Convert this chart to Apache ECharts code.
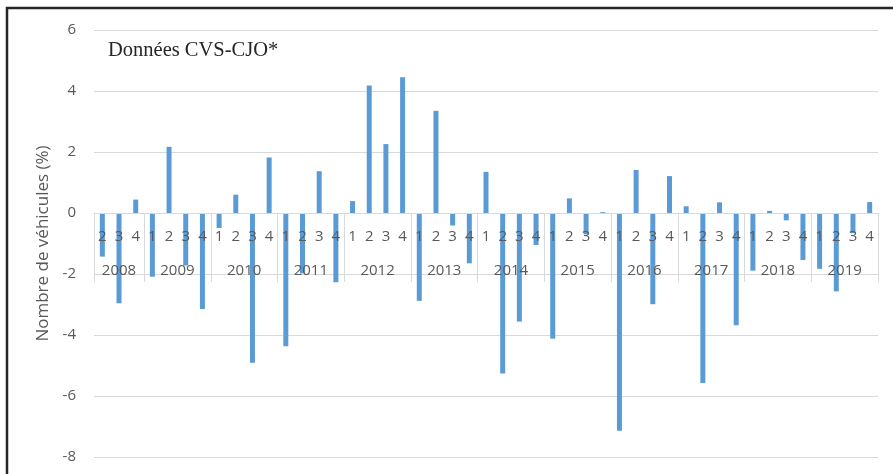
<!DOCTYPE html>
<html>
<head>
<meta charset="utf-8">
<script src="https://cdn.jsdelivr.net/npm/echarts@6/dist/echarts.min.js"></script>
<style>
html,body{margin:0;padding:0;background:#fff;}
#c{width:893px;height:474px;}
</style>
</head>
<body>
<div id="c"></div>
<script>
// ---- data ----
var years = ['2008','2009','2010','2011','2012','2013','2014','2015','2016','2017','2018','2019'];
var quartersPerYear = [
  ['2','3','4'],
  ['1','2','3','4'],['1','2','3','4'],['1','2','3','4'],['1','2','3','4'],
  ['1','2','3','4'],['1','2','3','4'],['1','2','3','4'],['1','2','3','4'],
  ['1','2','3','4'],['1','2','3','4'],['1','2','3','4']
];
var values = [
  -1.43, -2.96, 0.44,
  -2.09, 2.17, -1.72, -3.15,
  -0.49, 0.60, -4.91, 1.82,
  -4.37, -1.98, 1.37, -2.27,
  0.39, 4.18, 2.26, 4.45,
  -2.88, 3.35, -0.41, -1.65,
  1.35, -5.26, -3.56, -1.05,
  -4.12, 0.48, -0.70, 0.03,
  -7.14, 1.41, -2.99, 1.21,
  0.22, -5.57, 0.35, -3.68,
  -1.89, 0.07, -0.24, -1.54,
  -1.83, -2.57, -0.66, 0.36
];
var yTicks = {min: -8, max: 6, interval: 2};
var titleText = 'Données CVS-CJO*';
var yName = 'Nombre de véhicules (%)';

// ---- layout ----
var W = 893, H = 474;
var G = {left: 94, right: 15, top: 30, bottom: 17};
var plotH = H - G.top - G.bottom;
var zeroOffset = -plotH * (0 - yTicks.min) / (yTicks.max - yTicks.min);

// ---- build axes ----
var quarterLabels = [];
quartersPerYear.forEach(function(q){ q.forEach(function(x){ quarterLabels.push(x); }); });
var n = quarterLabels.length;
var yearPoints = [];
for (var i = 0; i <= 2 * n; i++) yearPoints.push('h' + i);
var boundary = {}, yearAt = {};
var start = 0;
years.forEach(function(y, k){
  var len = quartersPerYear[k].length;
  boundary[2 * start] = true;
  yearAt[2 * start + len] = y;
  start += len;
});
boundary[2 * start] = true;

var chart = echarts.init(document.getElementById('c'));
var axisFont = 'Open Sans';
chart.setOption({
  animation: false,
  backgroundColor: '#fff',
  title: {
    text: titleText, left: 103, top: 35,
    textStyle: {fontFamily: 'Liberation Serif', fontSize: 20.5, fontWeight: 'normal', color: '#262626'}
  },
  grid: {left: G.left, right: G.right, top: G.top, bottom: G.bottom, containLabel: false, outerBoundsMode: 'none'},
  xAxis: [{
    type: 'category', data: quarterLabels, z: 5, position: 'bottom', offset: zeroOffset,
    axisLine: {onZero: false, lineStyle: {color: '#d9d9d9', width: 1}},
    axisTick: {show: false},
    axisLabel: {interval: 0, margin: 16, fontFamily: axisFont, fontSize: 15, color: '#595959'},
    splitLine: {show: false}
  }, {
    type: 'category', data: yearPoints, position: 'bottom', offset: zeroOffset, boundaryGap: false, z: 5,
    axisLine: {onZero: false, show: false},
    axisTick: {show: true, length: 69, lineStyle: {color: '#d9d9d9', width: 1},
      interval: function(idx){ return !!boundary[idx]; }},
    axisLabel: {show: true, margin: 50, fontFamily: axisFont, fontSize: 15, color: '#595959',
      interval: function(idx){ return yearAt[idx] !== undefined; },
      formatter: function(val, idx){ return yearAt[idx] || ''; }},
    splitLine: {show: false}
  }],
  yAxis: {
    type: 'value', min: yTicks.min, max: yTicks.max, interval: yTicks.interval,
    name: yName, nameLocation: 'middle', nameGap: 34, nameRotate: 90,
    nameTextStyle: {fontFamily: axisFont, fontSize: 17, color: '#595959'},
    axisLine: {show: false}, axisTick: {show: false},
    axisLabel: {margin: 18, fontFamily: axisFont, fontSize: 15, color: '#595959'},
    splitLine: {lineStyle: {color: '#d9d9d9', width: 1}}
  },
  series: [{
    type: 'bar', xAxisIndex: 0, yAxisIndex: 0, data: values, barWidth: 5,
    itemStyle: {color: '#5B9BD5'}
  }],
  graphic: [{
    type: 'rect', z: 100, silent: true,
    shape: {x: 7, y: 8, width: 920, height: 500},
    style: {fill: 'none', stroke: '#262626', lineWidth: 2.5}
  }]
});
</script>
</body>
</html>
